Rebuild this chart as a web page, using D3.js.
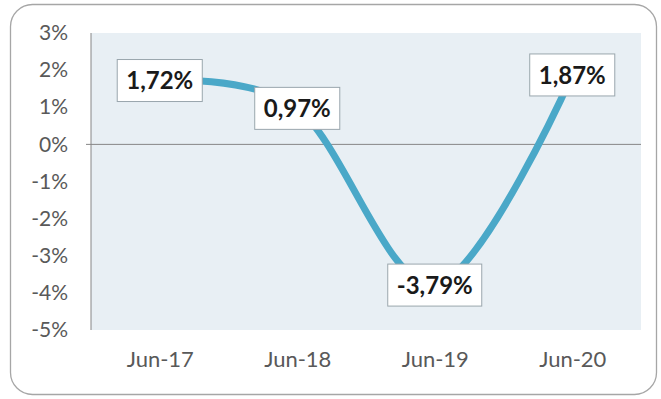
<!doctype html>
<html>
<head>
    <style>
        body { margin: 0; background: #fff; }
        .tick text { font-family: Lato, "Open Sans", sans-serif; }
    </style>
    <script src="https://d3js.org/d3.v7.min.js"></script>
</head>
<body>
<svg width="661" height="399" id="chart"></svg>
<script>
    // data
    var categories = ["Jun-17", "Jun-18", "Jun-19", "Jun-20"];
    var values = [1.72, 0.97, -3.79, 1.87];
    var yTicks = [3, 2, 1, 0, -1, -2, -3, -4, -5];

    var svg = d3.select("#chart");
    var plot = {left: 91, right: 641, top: 33, bottom: 330};

    // comma decimals, plain hyphen for minus
    var locale = d3.formatLocale({decimal: ",", thousands: ".", grouping: [3], currency: ["", ""], minus: "-"});
    var fmtLabel = locale.format(".2f");
    var fmtTick = locale.format("d");

    // outer frame
    svg.append("rect")
       .attr("x", 10.5).attr("y", 4.5)
       .attr("width", 646).attr("height", 390)
       .attr("rx", 22).attr("ry", 22)
       .attr("fill", "#fff")
       .attr("stroke", "#a6a6a6")
       .attr("stroke-width", 1.3);

    var xScale = d3.scalePoint().domain(categories).range([plot.left, plot.right]).padding(0.5);
    var yScale = d3.scaleLinear().domain([-5, 3]).range([plot.bottom, plot.top]);

    // plot background
    svg.append("rect")
       .attr("x", plot.left).attr("y", plot.top)
       .attr("width", plot.right - plot.left)
       .attr("height", plot.bottom - plot.top)
       .attr("fill", "#e8eff4");

    // y axis
    var yAxis = svg.append("g")
       .attr("transform", "translate(" + plot.left + ",0)")
       .call(d3.axisLeft(yScale).tickValues(yTicks).tickSize(0).tickPadding(23)
             .tickFormat(function(d) { return fmtTick(d) + "%"; }));
    yAxis.select(".domain").remove();
    yAxis.selectAll("text")
         .attr("font-size", "21px")
         .attr("fill", "#595959");

    svg.append("line")
       .attr("x1", plot.left).attr("x2", plot.left)
       .attr("y1", plot.top).attr("y2", plot.bottom)
       .attr("stroke", "#868686").attr("stroke-width", 1);

    // zero line
    svg.append("line")
       .attr("x1", plot.left - 5).attr("x2", plot.right)
       .attr("y1", yScale(0)).attr("y2", yScale(0))
       .attr("stroke", "#868686").attr("stroke-width", 1);

    // x axis labels
    var xAxis = svg.append("g")
       .attr("transform", "translate(0," + plot.bottom + ")")
       .call(d3.axisBottom(xScale).tickSize(0).tickPadding(21));
    xAxis.select(".domain").remove();
    xAxis.selectAll("text")
         .attr("font-size", "22px")
         .attr("fill", "#595959");

    // the smoothed line
    var line = d3.line()
        .x(function(d, i) { return xScale(categories[i]); })
        .y(function(d) { return yScale(d); })
        .curve(d3.curveCardinal.tension(0));

    svg.append("path")
       .datum(values)
       .attr("d", line)
       .attr("fill", "none")
       .attr("stroke", "#4aa8c8")
       .attr("stroke-width", 7);

    // boxed data labels
    var labels = svg.selectAll(".lbl")
        .data(values)
        .enter().append("g")
        .attr("class", "lbl")
        .attr("transform", function(d, i) {
            return "translate(" + xScale(categories[i]) + "," + yScale(d) + ")";
        });

    var rects = labels.append("rect")
        .attr("fill", "#fff")
        .attr("stroke", "#9aa6ad")
        .attr("stroke-width", 1);

    labels.append("text")
        .attr("text-anchor", "middle")
        .attr("dy", "0.36em")
        .attr("font-family", "Lato, 'Open Sans', sans-serif")
        .attr("font-weight", "bold")
        .attr("font-size", "24px")
        .attr("fill", "#1a1a1a")
        .text(function(d) { return fmtLabel(d) + "%"; });

    labels.each(function() {
        var g = d3.select(this);
        var w = g.select("text").node().getComputedTextLength() + 18;
        g.select("rect")
         .attr("x", -w / 2).attr("y", -21)
         .attr("width", w).attr("height", 42);
    });
</script>
</body>
</html>
